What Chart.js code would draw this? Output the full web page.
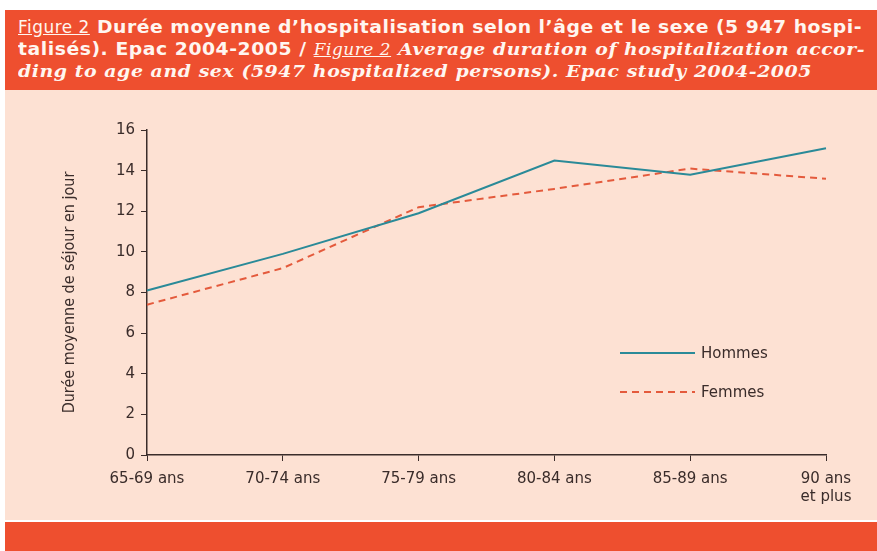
<!DOCTYPE html>
<html>
<head>
<meta charset="utf-8">
<script src="https://cdn.jsdelivr.net/npm/chart.js@4.4.1/dist/chart.umd.min.js"></script>
<style>
  body { margin: 0; width: 877px; height: 551px; background: #fff; position: relative; overflow: hidden; }
  #head {
    position: absolute; left: 5px; top: 10px; width: 872px; height: 80px;
    background: #ee4f2f; color: #fff6f0;
  }
  #head .ln { position: absolute; left: 13px; white-space: pre; font-size: 17px; transform-origin: 0 0; }
  .sans { font-family: "DejaVu Sans", sans-serif; font-weight: bold; }
  .sansl { font-family: "DejaVu Sans Condensed", "DejaVu Sans", sans-serif; font-weight: normal; text-decoration: underline; }
  .serif { font-family: "DejaVu Serif", serif; font-weight: bold; font-style: italic; }
  .serifl { font-family: "DejaVu Serif Condensed", "DejaVu Serif", serif; font-style: italic; text-decoration: underline; }
  #panel { position: absolute; left: 5px; top: 90px; width: 872px; height: 430px; background: #fde1d3; }
  #foot { position: absolute; left: 5px; top: 522px; width: 872px; height: 29px; background: #ee4f2f; }
  #wrap { position: absolute; left: 0; top: 90px; width: 877px; height: 430px; }
</style>
</head>
<body>
<div id="head">
  <div class="ln" data-w="844" style="top:7px"><span class="sansl">Figure 2</span><span class="sans"> Durée moyenne d’hospitalisation selon l’âge et le sexe (5 947 hospi-</span></div>
  <div class="ln" data-w="847" style="top:29px"><span class="sans">talisés). Epac 2004-2005 / </span><span class="serifl">Figure 2</span><span class="serif"> Average duration of hospitalization accor-</span></div>
  <div class="ln" data-w="794" style="top:51px"><span class="serif">ding to age and sex (5947 hospitalized persons). Epac study 2004-2005</span></div>
</div>
<div id="panel"></div>
<div id="foot"></div>
<div id="wrap"><canvas id="c" width="877" height="430"></canvas></div>
<script>
// categories and values
const ageGroups = ["65-69 ans", "70-74 ans", "75-79 ans", "80-84 ans", "85-89 ans", ["90 ans", "et plus"]];
const hommes = [8.1, 9.9, 11.9, 14.5, 13.8, 15.1];
const femmes = [7.4, 9.2, 12.2, 13.1, 14.1, 13.6];
const yTicks = [0, 2, 4, 6, 8, 10, 12, 14, 16];

// stretch the caption lines to the width they have in the original
document.querySelectorAll("#head .ln").forEach(el => {
  const target = +el.dataset.w;
  const n = el.textContent.length;
  el.style.letterSpacing = "0.5px";
  const w = el.getBoundingClientRect().width;
  el.style.transform = "scaleX(" + (target / w) + ")";
});

const inkColor = "#3a2c2a";
const sansFam = "'DejaVu Sans', sans-serif";
const tickFont = { family: sansFam, size: 15 };

// legend drawn inside the plot area, like the original
const innerLegend = {
  id: "innerLegend",
  afterDraw(chart) {
    const g = chart.ctx;
    const area = chart.chartArea;
    const x0 = area.left + 473, x1 = x0 + 75;
    chart.data.datasets.forEach((ds, i) => {
      const y = area.top + 223 + i * 39;
      g.save();
      g.strokeStyle = ds.borderColor;
      g.lineWidth = 2;
      g.setLineDash(ds.borderDash || []);
      g.beginPath();
      g.moveTo(x0, y);
      g.lineTo(x1, y);
      g.stroke();
      g.restore();
      g.fillStyle = inkColor;
      g.font = "15px " + sansFam;
      g.textBaseline = "middle";
      g.fillText(ds.label, x1 + 6, y + 1);
    });
  }
};

new Chart(document.getElementById("c"), {
  type: "line",
  data: {
    labels: ageGroups,
    datasets: [{
      label: "Hommes",
      data: hommes,
      borderColor: "#2a8a98",
      borderWidth: 2,
      pointRadius: 0,
      tension: 0,
      fill: false
    }, {
      label: "Femmes",
      data: femmes,
      borderColor: "#e45a3c",
      borderWidth: 2,
      borderDash: [7, 5],
      pointRadius: 0,
      tension: 0,
      fill: false
    }]
  },
  options: {
    responsive: false,
    animation: false,
    layout: { padding: { top: 40, right: 51, left: 0, bottom: 0 } },
    plugins: { legend: { display: false }, tooltip: { enabled: false } },
    scales: {
      x: {
        offset: false,
        grid: { drawOnChartArea: false, drawTicks: true, tickLength: 6, color: inkColor },
        border: { display: true, color: inkColor, width: 1.5 },
        ticks: { color: inkColor, font: tickFont, maxRotation: 0, padding: 9 },
        afterFit(scale) { scale.height = 65; }
      },
      y: {
        min: 0,
        max: 16,
        afterBuildTicks(scale) { scale.ticks = yTicks.map(v => ({ value: v })); },
        grid: { drawOnChartArea: false, drawTicks: true, tickLength: 6, color: inkColor },
        border: { display: true, color: inkColor, width: 1.5 },
        ticks: { color: inkColor, font: tickFont, padding: 6 },
        title: {
          display: true,
          text: "Durée moyenne de séjour en jour",
          color: inkColor,
          font: { family: "'DejaVu Sans Condensed', 'DejaVu Sans', sans-serif", size: 16 },
          padding: { top: 60 }
        },
        afterFit(scale) { scale.width = 147; }
      }
    }
  },
  plugins: [innerLegend]
});
</script>
</body>
</html>
